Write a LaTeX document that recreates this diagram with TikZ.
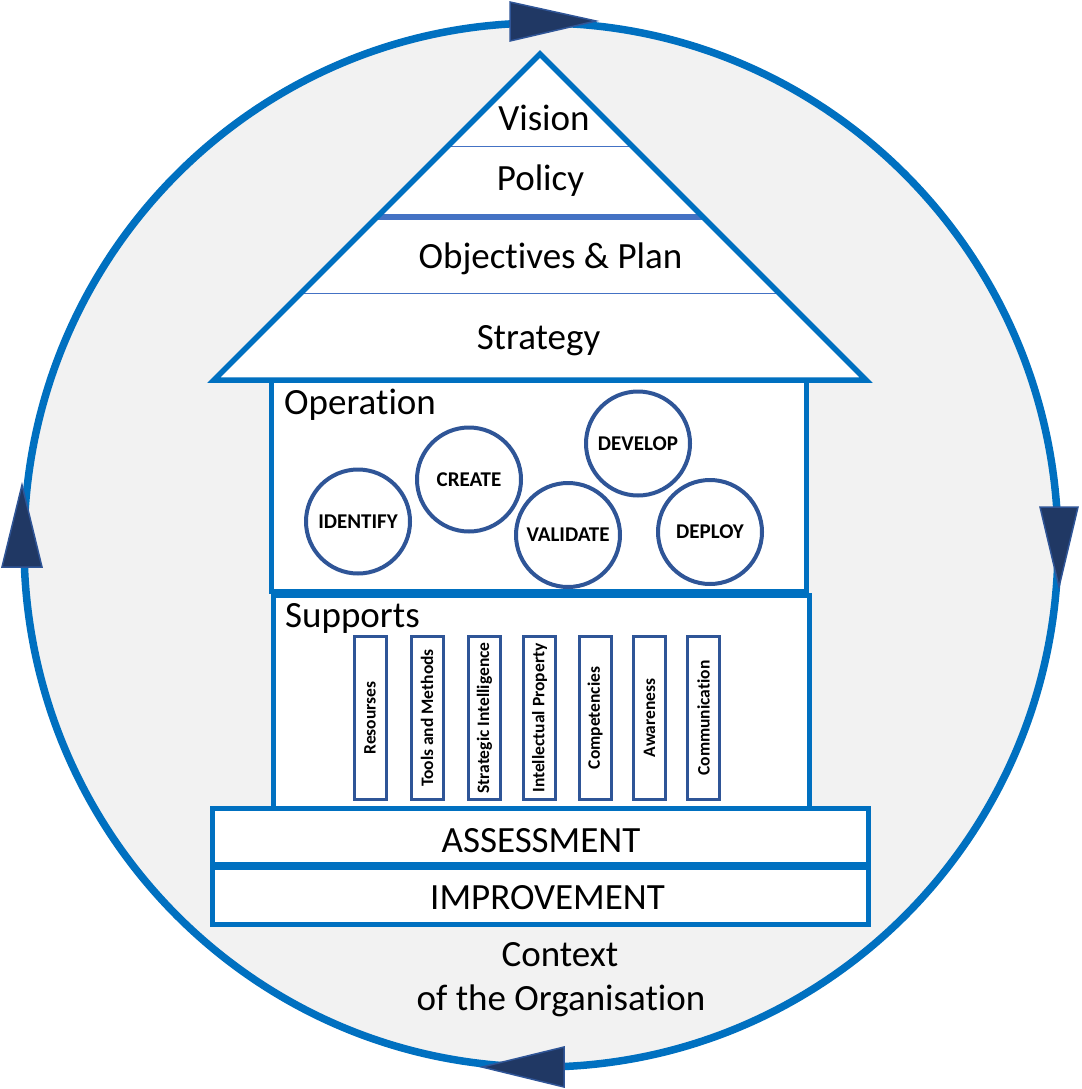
\documentclass[tikz,border=0pt]{standalone}
\usepackage{fontspec}
\setmainfont{Carlito}[RawFeature={-liga;-clig;-calt;-dlig}]
\newcommand\tsplit{t\kern0pt i}
\definecolor{mainblue}{HTML}{0070C0}
\definecolor{darkblue}{HTML}{2F5597}
\definecolor{navy}{HTML}{203864}
\definecolor{lineblue}{HTML}{4472C4}
\definecolor{bggray}{HTML}{F2F2F2}
\begin{document}
\begin{tikzpicture}[x=1pt,y=-1pt,
  bigtxt/.style={inner sep=0pt, anchor=base, font=\fontsize{37}{44}\selectfont},
  lefttxt/.style={inner sep=0pt, anchor=base west, font=\fontsize{37}{44}\selectfont},
  housebox/.style={draw=mainblue, line width=5pt, fill=white, inner sep=0pt},
  opcircle/.style={circle, draw=darkblue, line width=4pt, fill=white, inner sep=0pt,
    minimum size=104pt, font=\fontsize{21}{24}\selectfont\bfseries},
  supbar/.style={draw=darkblue, line width=3pt, fill=white, inner sep=0pt, rotate=90,
    minimum width=163pt, minimum height=32pt, font=\fontsize{17.5}{20}\selectfont\bfseries},
  cyclehead/.style={fill=navy, draw=darkblue, line width=1.5pt, line join=miter},
  ringline/.style={draw=mainblue, line width=7.5pt, fill=bggray}
]
\useasboundingbox (0,0) rectangle (1081,1089);

% outer cycle
\draw[ringline] (541,545) ellipse [x radius=517pt, y radius=522pt];
\filldraw[cyclehead] (510,2) -- (596,21) -- (510,41) -- cycle;
\filldraw[cyclehead] (1040,507) -- (1078,507) -- (1059,587) -- cycle;
\filldraw[cyclehead] (564,1047) -- (482,1067) -- (564,1087) -- cycle;
\filldraw[cyclehead] (2,567) -- (42,567) -- (22,485) -- cycle;

% roof
\fill[white] (540,54) -- (866,380) -- (214,380) -- cycle;
\begin{scope}
  \clip (540,54) -- (866,380) -- (214,380) -- cycle;
  \draw[lineblue, line width=1pt] (200,146) -- (880,146);
  \draw[lineblue, line width=6pt] (200,217) -- (880,217);
  \draw[lineblue, line width=1pt] (200,293) -- (880,293);
\end{scope}
\draw[mainblue, line width=5.5pt, line join=miter] (540,54) -- (866,380) -- (214,380) -- cycle;

\node[bigtxt] (vision) at (544,131) {Vision};
\node[bigtxt] (policy) at (540.5,190) {Policy};
\node[bigtxt] (objectives) at (550.5,268) {Objec\tsplit ves \& Plan};
\node[bigtxt] (strategy) at (538.5,349) {Strategy};

% operation
\node[housebox, minimum width=535pt, minimum height=211pt] (operation) at (538.5,485.5) {};
\node[lefttxt] (optitle) at (284,414) {Opera\tsplit on};
\node[opcircle] (identify) at (358,521.5) {IDENTIFY};
\node[opcircle] (create) at (469,479.5) {CREATE};
\node[opcircle] (develop) at (638,443.5) {DEVELOP};
\node[opcircle] (validate) at (568,535) {VALIDATE};
\node[opcircle] (deploy) at (710,532) {DEPLOY};

% supports
\node[housebox, minimum width=536pt, minimum height=213pt] (supports) at (541.5,701.5) {};
\node[lefttxt] (suptitle) at (285,627) {Supports};
\node[supbar] (b1) at (370,718) {Resourses};
\node[supbar] (b2) at (427,718) {Tools and Methods};
\node[supbar] (b3) at (484.5,718) {Strategic Intelligence};
\node[supbar] (b4) at (539.5,718) {Intellectual Property};
\node[supbar] (b5) at (595,718) {Competencies};
\node[supbar] (b6) at (649.5,718) {Awareness};
\node[supbar] (b7) at (703.5,718) {Communica\tsplit on};

% base
\node[housebox, minimum width=656.5pt, minimum height=56pt] (assessment) at (540.25,836.5) {};
\node[housebox, minimum width=656.5pt, minimum height=57pt] (improvement) at (540.25,896) {};
\node[bigtxt] (asstxt) at (541,852) {ASSESSMENT};
\node[bigtxt] (imptxt) at (547.5,909) {IMPROVEMENT};

\node[bigtxt] (context1) at (560,966) {Context};
\node[bigtxt] (context2) at (561,1010) {of the Organisa\tsplit on};
\end{tikzpicture}
\end{document}
